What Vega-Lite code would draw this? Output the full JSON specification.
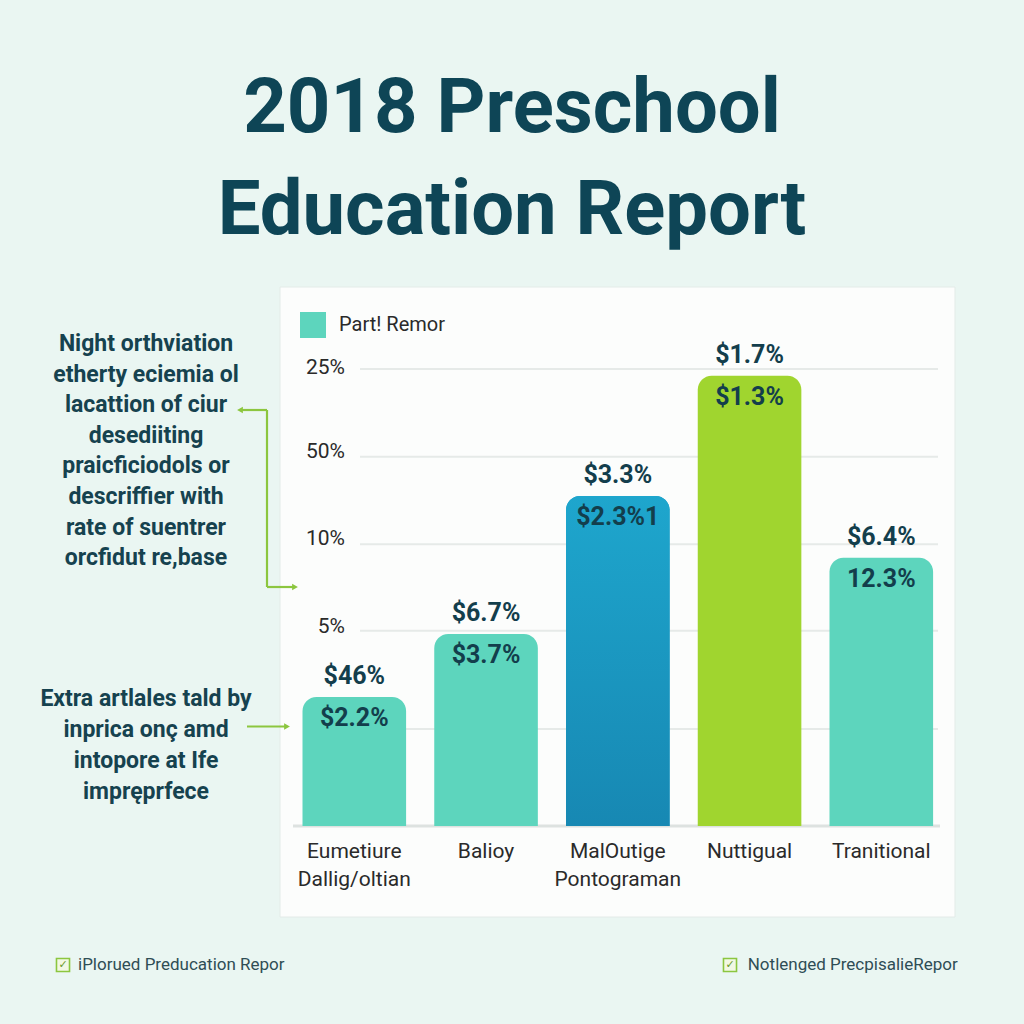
{
  "$schema": "https://vega.github.io/schema/vega-lite/v6.json",
  "width": 1024,
  "height": 1024,
  "autosize": {"type": "none"},
  "padding": 0,
  "background": "#eaf6f2",
  "config": {"view": {"stroke": null}, "font": "Roboto"},
  "title": {
    "text": ["2018 Preschool", "Education Report"],
    "fontSize": 76,
    "font": "Roboto",
    "fontWeight": "bold",
    "color": "#0e4556",
    "lineHeight": 102,
    "anchor": "middle",
    "frame": "group",
    "offset": -250
  },
  "data": {"values": [{}]},
  "resolve": {"scale": {"x": "independent"}},
  "layer": [
    {
      "layer": [
        {
          "mark": {"type": "rect", "fill": "#fcfdfc", "stroke": "#e3ebe8", "strokeWidth": 1},
          "encoding": {
            "x": {"datum": 0.4383, "type": "quantitative", "scale": {"domain": [-1.6869, 6.0854], "nice": false, "zero": false}, "axis": null},
            "x2": {"datum": 5.5617},
            "y": {"datum": 30.8, "type": "quantitative", "scale": {"domain": [-11.3143, 47.2], "nice": false, "zero": false}, "axis": null},
            "y2": {"datum": -5.2}
          }
        },
        {
          "data": {"values": [{"tick": 26.114}, {"tick": 21.103}, {"tick": 16.097}, {"tick": 11.16}, {"tick": 5.543}]},
          "mark": {"type": "rule", "stroke": "#e6eae8", "strokeWidth": 2},
          "encoding": {
            "x": {"datum": 1.0455, "type": "quantitative", "axis": null},
            "x2": {"datum": 5.4326},
            "y": {"field": "tick", "type": "quantitative", "axis": null}
          }
        },
        {
          "data": {"values": [{"at": 26.17, "label": "25%"}, {"at": 21.37, "label": "50%"}, {"at": 16.4, "label": "10%"}, {"at": 11.37, "label": "5%"}]},
          "mark": {"type": "text", "align": "right", "baseline": "middle", "fontSize": 21, "color": "#2a2a2a", "font": "Roboto"},
          "encoding": {
            "x": {"datum": 0.9317, "type": "quantitative", "axis": null},
            "y": {"field": "at", "type": "quantitative", "axis": null},
            "text": {"field": "label"}
          }
        },
        {
          "mark": {"type": "rule", "stroke": "#dde2e0", "strokeWidth": 3},
          "encoding": {
            "x": {"datum": 0.537, "type": "quantitative", "axis": null},
            "x2": {"datum": 5.448},
            "y": {"datum": 0, "type": "quantitative", "axis": null}
          }
        },
        {
          "mark": {"type": "rule", "stroke": "#8cc63f", "strokeWidth": 2.2},
          "encoding": {
            "x": {"datum": 0.1347, "type": "quantitative", "axis": null},
            "x2": {"datum": 0.3397},
            "y": {"datum": 23.771, "type": "quantitative", "axis": null},
            "y2": {"datum": 23.771}
          }
        },
        {
          "mark": {"type": "rule", "stroke": "#8cc63f", "strokeWidth": 2.2},
          "encoding": {
            "x": {"datum": 0.3397, "type": "quantitative", "axis": null},
            "x2": {"datum": 0.3397},
            "y": {"datum": 23.771, "type": "quantitative", "axis": null},
            "y2": {"datum": 13.657}
          }
        },
        {
          "mark": {"type": "rule", "stroke": "#8cc63f", "strokeWidth": 2.2},
          "encoding": {
            "x": {"datum": 0.3397, "type": "quantitative", "axis": null},
            "x2": {"datum": 0.5446},
            "y": {"datum": 13.657, "type": "quantitative", "axis": null},
            "y2": {"datum": 13.657}
          }
        },
        {
          "mark": {"type": "rule", "stroke": "#8cc63f", "strokeWidth": 2.2},
          "encoding": {
            "x": {"datum": 0.1879, "type": "quantitative", "axis": null},
            "x2": {"datum": 0.4782},
            "y": {"datum": 5.686, "type": "quantitative", "axis": null},
            "y2": {"datum": 5.686}
          }
        },
        {
          "mark": {"type": "point", "shape": "triangle-left", "filled": true, "size": 45, "color": "#8cc63f", "opacity": 1},
          "encoding": {
            "x": {"datum": 0.1347, "type": "quantitative", "axis": null},
            "y": {"datum": 23.771, "type": "quantitative", "axis": null}
          }
        },
        {
          "mark": {"type": "point", "shape": "triangle-right", "filled": true, "size": 45, "color": "#8cc63f", "opacity": 1},
          "encoding": {
            "x": {"datum": 0.5522, "type": "quantitative", "axis": null},
            "y": {"datum": 13.657, "type": "quantitative", "axis": null}
          }
        },
        {
          "mark": {"type": "point", "shape": "triangle-right", "filled": true, "size": 45, "color": "#8cc63f", "opacity": 1},
          "encoding": {
            "x": {"datum": 0.4915, "type": "quantitative", "axis": null},
            "y": {"datum": 5.686, "type": "quantitative", "axis": null}
          }
        },
        {
          "data": {"values": [{"note": "Night orthviation\netherty eciemia ol\nlacattion of ciur\ndesediiting\npraicficiodols or\ndescriffier with\nrate of suentrer\norcfidut re,base"}]},
          "mark": {"type": "text", "lineBreak": "\n", "align": "center", "baseline": "alphabetic", "fontSize": 23, "fontWeight": "bold", "color": "#16424f", "lineHeight": 30.6, "font": "Roboto"},
          "encoding": {
            "x": {"datum": -0.5787, "type": "quantitative", "axis": null},
            "y": {"datum": 27.143, "type": "quantitative", "axis": null},
            "text": {"field": "note"}
          }
        },
        {
          "data": {"values": [{"note": "Extra artlales tald by\ninprica onç amd\nintopore at Ife\nimpręprfece"}]},
          "mark": {"type": "text", "lineBreak": "\n", "align": "center", "baseline": "alphabetic", "fontSize": 23, "fontWeight": "bold", "color": "#16424f", "lineHeight": 31, "font": "Roboto"},
          "encoding": {
            "x": {"datum": -0.5787, "type": "quantitative", "axis": null},
            "y": {"datum": 6.857, "type": "quantitative", "axis": null},
            "text": {"field": "note"}
          }
        },
        {
          "mark": {"type": "point", "shape": "square", "filled": true, "size": 170, "fill": "#f2f8e4", "stroke": "#8cc63f", "strokeWidth": 1.6, "opacity": 1},
          "encoding": {
            "x": {"datum": -1.2087, "type": "quantitative", "axis": null},
            "y": {"datum": -7.943, "type": "quantitative", "axis": null}
          }
        },
        {
          "mark": {"type": "point", "shape": "square", "filled": true, "size": 170, "fill": "#f2f8e4", "stroke": "#8cc63f", "strokeWidth": 1.6, "opacity": 1},
          "encoding": {
            "x": {"datum": 3.8539, "type": "quantitative", "axis": null},
            "y": {"datum": -7.943, "type": "quantitative", "axis": null}
          }
        },
        {
          "mark": {"type": "text", "text": "✓", "align": "center", "baseline": "middle", "fontSize": 11, "fontWeight": "bold", "color": "#6a9a2a", "font": "DejaVu Sans"},
          "encoding": {
            "x": {"datum": -1.2087, "type": "quantitative", "axis": null},
            "y": {"datum": -7.943, "type": "quantitative", "axis": null}
          }
        },
        {
          "mark": {"type": "text", "text": "✓", "align": "center", "baseline": "middle", "fontSize": 11, "fontWeight": "bold", "color": "#6a9a2a", "font": "DejaVu Sans"},
          "encoding": {
            "x": {"datum": 3.8539, "type": "quantitative", "axis": null},
            "y": {"datum": -7.943, "type": "quantitative", "axis": null}
          }
        },
        {
          "data": {"values": [{"t": "iPlorued Preducation Repor"}]},
          "mark": {"type": "text", "align": "left", "baseline": "middle", "fontSize": 17, "color": "#2f4d55", "font": "Roboto"},
          "encoding": {
            "x": {"datum": -1.0949, "type": "quantitative", "axis": null},
            "y": {"datum": -7.943, "type": "quantitative", "axis": null},
            "text": {"field": "t"}
          }
        },
        {
          "data": {"values": [{"t": "Notlenged PrecpisalieRepor"}]},
          "mark": {"type": "text", "align": "left", "baseline": "middle", "fontSize": 17, "color": "#2f4d55", "font": "Roboto"},
          "encoding": {
            "x": {"datum": 3.9886, "type": "quantitative", "axis": null},
            "y": {"datum": -7.943, "type": "quantitative", "axis": null},
            "text": {"field": "t"}
          }
        }
      ]
    },
    {
      "data": {
        "values": [
          {"cat": "Eumetiure|Dallig/oltian", "value": 7.37, "top": "$46%", "inner": "$2.2%", "grp": "Part! Remor"},
          {"cat": "Balioy", "value": 10.97, "top": "$6.7%", "inner": "$3.7%", "grp": "Part! Remor"},
          {"cat": "MalOutige|Pontograman", "value": 18.86, "top": "$3.3%", "inner": "$2.3%1", "grp": "MalOutige"},
          {"cat": "Nuttigual", "value": 25.73, "top": "$1.7%", "inner": "$1.3%", "grp": "Nuttigual"},
          {"cat": "Tranitional", "value": 15.33, "top": "$6.4%", "inner": "12.3%", "grp": "Part! Remor"}
        ]
      },
      "layer": [
        {
          "mark": {"type": "bar", "cornerRadiusTopLeft": 14, "cornerRadiusTopRight": 14},
          "encoding": {
            "x": {
              "field": "cat", "type": "nominal", "sort": null,
              "scale": {"type": "band", "range": [302.5, 933.1], "paddingInner": 0.2137, "paddingOuter": 0},
              "axis": null
            },
            "y": {
              "field": "value", "type": "quantitative",
              "scale": {"domain": [-11.3143, 47.2], "nice": false, "zero": false},
              "axis": null
            },
            "y2": {"datum": 0},
            "color": {
              "field": "grp", "type": "nominal",
              "scale": {"domain": ["Part! Remor", "MalOutige", "Nuttigual"], "range": ["#5dd5bd", "#1a9cc6", "#a0d52f"]},
              "legend": {"values": ["Part! Remor"], "title": null, "orient": "none", "legendX": 300, "legendY": 312, "symbolType": "square", "symbolSize": 676, "symbolStrokeWidth": 0, "symbolOpacity": 1, "labelFontSize": 20, "labelFont": "Roboto", "labelColor": "#2a2a2a", "labelOffset": 13, "zindex": 1}
            }
          }
        },
        {
          "transform": [{"filter": "datum.grp === 'MalOutige'"}],
          "mark": {"type": "bar", "cornerRadiusTopLeft": 14, "cornerRadiusTopRight": 14, "fill": {"gradient": "linear", "x1": 0, "y1": 0, "x2": 0, "y2": 1, "stops": [{"offset": 0, "color": "#1ea6cd"}, {"offset": 1, "color": "#1788b3"}]}},
          "encoding": {
            "x": {"field": "cat", "type": "nominal", "sort": null, "axis": null},
            "y": {"field": "value", "type": "quantitative", "axis": null},
            "y2": {"datum": 0}
          }
        },
        {
          "mark": {"type": "text", "dy": -21, "baseline": "middle", "fontSize": 25, "fontWeight": "bold", "color": "#133e4c", "font": "Roboto"},
          "encoding": {
            "x": {"field": "cat", "type": "nominal", "sort": null, "axis": null},
            "y": {"field": "value", "type": "quantitative", "axis": null},
            "text": {"field": "top"}
          }
        },
        {
          "mark": {"type": "text", "dy": 21, "baseline": "middle", "fontSize": 25, "fontWeight": "bold", "color": "#133e4c", "font": "Roboto"},
          "encoding": {
            "x": {"field": "cat", "type": "nominal", "sort": null, "axis": null},
            "y": {"field": "value", "type": "quantitative", "axis": null},
            "text": {"field": "inner"}
          }
        },
        {
          "mark": {"type": "text", "lineBreak": "|", "align": "center", "baseline": "alphabetic", "fontSize": 21, "color": "#2a2a2a", "lineHeight": 27.5, "font": "Roboto"},
          "encoding": {
            "x": {"field": "cat", "type": "nominal", "sort": null, "axis": null},
            "y": {"datum": -1.829, "type": "quantitative", "axis": null},
            "text": {"field": "cat"}
          }
        }
      ]
    }
  ]
}
